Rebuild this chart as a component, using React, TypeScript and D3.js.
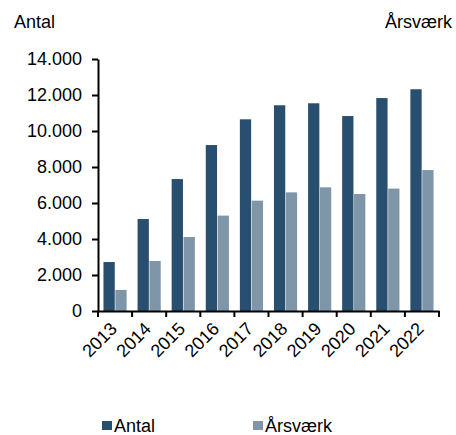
import React, { useEffect, useRef } from 'react';
import * as d3 from 'd3';

const years = ['2013', '2014', '2015', '2016', '2017', '2018', '2019', '2020', '2021', '2022'];
const antal = [2720, 5110, 7330, 9220, 10650, 11430, 11540, 10830, 11830, 12320];
const aarsvaerk = [1170, 2780, 4110, 5300, 6130, 6590, 6870, 6500, 6800, 7830];
const seriesNames = ['Antal', 'Årsværk'];
const yTicks = [0, 2000, 4000, 6000, 8000, 10000, 12000, 14000];

const width = 456;
const height = 435;
const colors = ['#284f6f', '#7f96a9'];
const font = '"Liberation Sans", Arial, sans-serif';

export default function App() {
    const svgRef = useRef<SVGSVGElement>(null);

    useEffect(() => {
        const svg = d3.select(svgRef.current);
        svg.selectAll('*').remove();

        const x = d3.scaleBand().domain(years).range([98, 439]).padding(0);
        const x1 = d3.scaleBand().domain(seriesNames).range([0, x.bandwidth()])
            .paddingInner(0.05).paddingOuter(0.46);
        const y = d3.scaleLinear().domain([0, 14000]).range([311, 59]);

        const fmt = (d: number) => d3.format(',')(d).replace(/,/g, '.');

        // bars
        const rows = years.map((yr, i) => ({ yr, vals: [antal[i], aarsvaerk[i]] }));
        svg.append('g')
            .selectAll('g')
            .data(rows)
            .join('g')
            .attr('transform', d => `translate(${x(d.yr)},0)`)
            .selectAll('rect')
            .data(d => d.vals.map((v, k) => ({ v, k })))
            .join('rect')
            .attr('x', d => x1(seriesNames[d.k])!)
            .attr('width', x1.bandwidth())
            .attr('y', d => y(d.v))
            .attr('height', d => y(0) - y(d.v))
            .attr('fill', d => colors[d.k]);

        // y axis
        const yAxis = svg.append('g')
            .attr('transform', 'translate(98,0)')
            .call(d3.axisLeft(y).tickValues(yTicks).tickFormat(d => fmt(d as number)).tickSize(6).tickSizeOuter(0).tickPadding(10));
        yAxis.select('.domain').attr('stroke', '#000').attr('stroke-width', 2);
        yAxis.selectAll('.tick line').attr('stroke', '#000').attr('stroke-width', 2);
        yAxis.selectAll('text').attr('font-family', font).attr('font-size', 18).attr('fill', '#000');

        // x axis
        const xAxis = svg.append('g')
            .attr('transform', 'translate(0,311)')
            .call(d3.axisBottom(x).tickSize(0).tickSizeOuter(0).tickFormat(() => ''));
        xAxis.select('.domain').attr('stroke', '#000').attr('stroke-width', 2);
        xAxis.selectAll('.tick').remove();
        const edges = [...years.map(d => x(d)!), 439];
        xAxis.selectAll('line.edge')
            .data(edges)
            .join('line')
            .attr('class', 'edge')
            .attr('x1', d => d).attr('x2', d => d)
            .attr('y1', 0).attr('y2', 6)
            .attr('stroke', '#000').attr('stroke-width', 2);
        xAxis.selectAll('text.yr')
            .data(years)
            .join('text')
            .attr('class', 'yr')
            .attr('transform', d => `translate(${x(d)! + x.bandwidth() / 2 + 3},${19}) rotate(-45)`)
            .attr('text-anchor', 'end')
            .attr('font-family', font)
            .attr('font-size', 18)
            .attr('fill', '#000')
            .text(d => d);

        // axis titles
        svg.append('text').attr('x', 14).attr('y', 28).attr('font-family', font).attr('font-size', 18).text('Antal');
        svg.append('text').attr('x', 452).attr('y', 28).attr('text-anchor', 'end').attr('font-family', font).attr('font-size', 18).text('Årsværk');

        // legend
        const legX = [102, 253];
        const leg = svg.append('g').selectAll('g').data(seriesNames).join('g')
            .attr('transform', (d, i) => `translate(${legX[i]},421)`);
        leg.append('rect').attr('width', 10).attr('height', 9).attr('fill', (d, i) => colors[i]);
        leg.append('text').attr('x', 12).attr('y', 11).attr('font-family', font).attr('font-size', 18).text(d => d);
    }, []);

    return (
        <svg ref={svgRef} width={width} height={height} style={{ position: 'absolute', left: 0, top: 0, background: '#fff' }} />
    );
}
